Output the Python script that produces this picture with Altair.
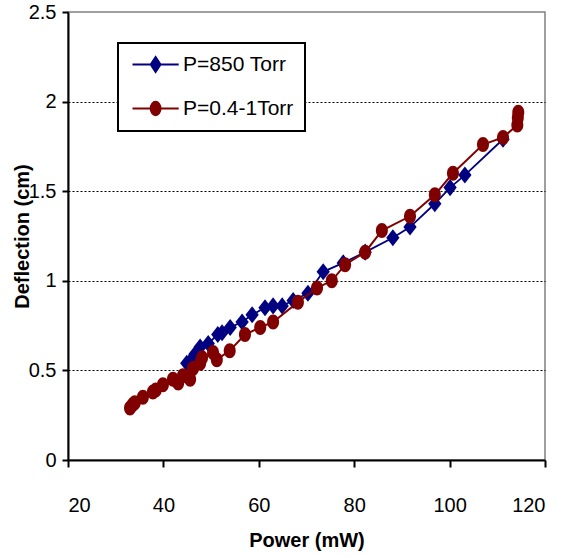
import altair as alt
import pandas as pd

SERIES = ["P=850 Torr", "P=0.4-1Torr"]
COLORS = ["#000080", "#800000"]

BLUE_X = [44.9, 45.6, 46.6, 47.7, 49.4, 51.4, 52.3, 54.0, 56.5, 58.6, 61.3, 63.0,
          64.9, 67.2, 70.3, 73.5, 77.7, 82.3, 88.1, 91.7, 96.9, 100.1, 103.2, 111.2]
BLUE_Y = [0.54, 0.55, 0.59, 0.63, 0.65, 0.70, 0.71, 0.74, 0.77, 0.81, 0.85, 0.86,
          0.86, 0.89, 0.93, 1.05, 1.10, 1.16, 1.24, 1.30, 1.43, 1.52, 1.59, 1.79]

RED_X = [33.0, 33.6, 34.0, 35.7, 37.8, 38.4, 39.9, 42.0, 43.1, 44.1, 45.6, 46.2,
         47.7, 48.1, 50.4, 51.2, 53.9, 57.1, 60.3, 63.0, 68.2, 72.2, 75.3, 78.1,
         82.3, 85.8, 91.7, 96.9, 100.7, 107.0, 111.2, 114.2, 114.3, 114.4]
RED_Y = [0.29, 0.31, 0.32, 0.35, 0.38, 0.39, 0.42, 0.45, 0.43, 0.47, 0.45, 0.51,
         0.54, 0.57, 0.60, 0.56, 0.61, 0.70, 0.74, 0.77, 0.88, 0.96, 1.00, 1.09,
         1.16, 1.28, 1.36, 1.48, 1.60, 1.76, 1.80, 1.87, 1.91, 1.94]

X_TICKS = [20, 40, 60, 80, 100, 120]
Y_TICKS = [0, 0.5, 1, 1.5, 2, 2.5]

DIAMOND = "M0,-1L0.78,0L0,1L-0.78,0Z"
ELLIPSE = "M-0.8,0A0.8,1 0 1,0 0.8,0A0.8,1 0 1,0 -0.8,0Z"
LEG_DIAMOND = "M-1,0L5.6,0M2.3,-1.05L3.0,0L2.3,1.05L1.6,0Z"
LEG_CIRCLE = "M-1,0L5.6,0M1.6,0A0.7,0.95 0 1,0 3.0,0A0.7,0.95 0 1,0 1.6,0Z"

blue = pd.DataFrame({"power": BLUE_X, "defl": BLUE_Y, "series": SERIES[0]})
red = pd.DataFrame({"power": RED_X, "defl": RED_Y, "series": SERIES[1]})
allpts = pd.concat([blue, red], ignore_index=True)

FONT = "Liberation Sans"

x_enc = alt.X("power:Q", scale=alt.Scale(domain=[20, 120], nice=False),
              axis=alt.Axis(values=X_TICKS, title="Power (mW)", grid=False,
                            tickSize=7, labelPadding=28, titleY=80,
                            titleBaseline="middle"))
y_enc = alt.Y("defl:Q", scale=alt.Scale(domain=[0, 2.5], nice=False),
              axis=alt.Axis(values=Y_TICKS, title="Deflection (cm)", format="~g",
                            grid=True, gridDash=[2, 2], gridColor="black",
                            gridWidth=1,
                            gridOpacity=alt.condition("datum.value >= 2.5 || datum.value <= 0",
                                                      alt.value(0), alt.value(1)),
                            tickSize=6, labelPadding=6, titleX=-46,
                            titleBaseline="middle"))

blue_line = alt.Chart(blue).mark_line(color=COLORS[0], strokeWidth=1.8).encode(x=x_enc, y=y_enc)
blue_pts = alt.Chart(blue).mark_point(shape=DIAMOND, size=290, filled=True,
                                      color=COLORS[0], opacity=1).encode(x="power:Q", y="defl:Q")
red_line = alt.Chart(red).mark_line(color=COLORS[1], strokeWidth=2).encode(x="power:Q", y="defl:Q")
red_pts = alt.Chart(red).mark_point(shape=ELLIPSE, size=225, filled=True,
                                    color=COLORS[1], opacity=1).encode(x="power:Q", y="defl:Q")

leg_scale_c = alt.Scale(domain=SERIES, range=COLORS)
legend = alt.Legend(title=None, orient="none", legendX=50, legendY=31,
                    symbolOpacity=1, symbolSize=196, symbolStrokeWidth=2,
                    labelFont=FONT, labelFontSize=21,
                    labelColor="black", labelOffset=33, rowPadding=21,
                    padding=11, strokeColor="black", fillColor="white")
legend_layer = alt.Chart(allpts).mark_point(filled=True, opacity=0).encode(
    x="power:Q", y="defl:Q",
    fill=alt.Fill("series:N", scale=leg_scale_c, legend=legend),
    stroke=alt.Stroke("series:N", scale=leg_scale_c, legend=legend),
    shape=alt.Shape("series:N", scale=alt.Scale(domain=SERIES, range=[LEG_DIAMOND, LEG_CIRCLE]),
                    legend=legend),
)

chart = alt.layer(blue_line, blue_pts, red_line, red_pts, legend_layer).properties(
    width=477, height=448,
    padding={"left": 68, "top": 12, "right": 22, "bottom": 97},
    autosize="none",
).configure_view(stroke="#808080", strokeWidth=1.5).configure_axis(
    domainColor="black", domainWidth=2, tickColor="black", tickWidth=2,
    labelFont=FONT, labelFontSize=20, labelColor="black",
    titleFont=FONT, titleFontSize=20, titleFontWeight="bold", titleColor="black",
).configure_legend(strokeWidth=2)

chart.save("out.html", embed_options={"renderer": "svg", "actions": False})
